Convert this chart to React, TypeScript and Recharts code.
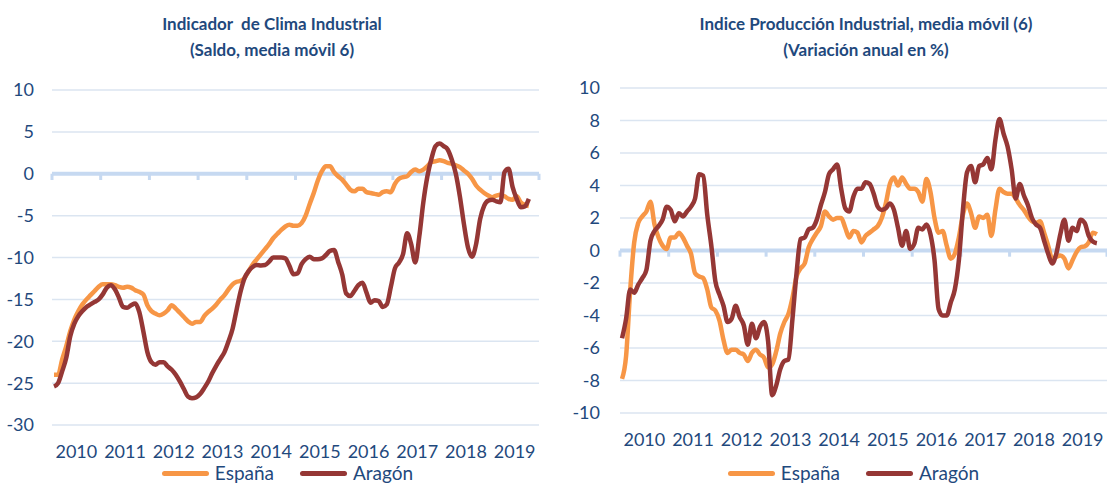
import React from 'react'
import { LineChart, Line, XAxis, YAxis, CartesianGrid, ReferenceLine, Legend } from 'recharts'

// Jan 2010 .. Oct 2019, monthly
const anios = [2010, 2011, 2012, 2013, 2014, 2015, 2016, 2017, 2018, 2019]
const limites = [2010, 2011, 2012, 2013, 2014, 2015, 2016, 2017, 2018, 2019, 2020]

const climaEspana = [
  -24.0, -24.0, -22.2, -20.6, -18.8, -17.4, -16.4, -15.6, -15.0, -14.5, -14.0, -13.5,
  -13.2, -13.2, -13.2, -13.3, -13.5, -13.6, -13.5, -13.6, -13.9, -14.1, -14.4, -15.7,
  -16.4, -16.7, -16.9, -16.7, -16.3, -15.7, -16.1, -16.6, -17.1, -17.6, -17.9, -17.7,
  -17.7, -17.0, -16.5, -16.1, -15.6, -15.0, -14.5, -13.8, -13.2, -12.9, -12.8, -12.4,
  -11.6, -10.8, -10.2, -9.6, -9.0, -8.4, -7.7, -7.2, -6.7, -6.3, -6.1, -6.2,
  -6.2, -5.9, -5.0, -3.6, -2.3, -0.8, 0.3, 0.9, 0.9, 0.2, -0.3, -0.7,
  -1.3, -1.9, -2.1, -1.8, -1.8, -2.2, -2.3, -2.4, -2.5, -2.2, -2.1, -2.2,
  -1.2, -0.6, -0.4, -0.3, 0.2, 0.5, 0.3, 0.5, 0.9, 1.4, 1.5, 1.6,
  1.5, 1.3, 1.2, 1.0, 0.8, 0.4, 0.0, -0.6, -1.4, -1.9, -2.3, -2.6,
  -2.8, -2.6, -2.5, -2.7, -3.0, -3.1, -2.7, -3.4, -3.7, -3.85,
]

const climaAragon = [
  -25.4, -25.0, -23.6, -22.0, -19.4, -17.9, -17.0, -16.4, -15.9, -15.6, -15.3, -15.0,
  -14.4, -13.6, -13.3, -13.8, -14.8, -15.9, -16.0, -15.7, -15.5, -16.5, -18.8, -21.3,
  -22.5, -22.8, -22.5, -22.5, -23.0, -23.4, -24.0, -24.8, -25.7, -26.6, -26.8, -26.7,
  -26.3, -25.6, -24.8, -23.8, -22.9, -22.1, -21.3, -20.0, -18.5, -16.2, -14.0, -12.4,
  -11.6, -11.1, -10.9, -10.95, -10.9, -10.5, -10.0, -10.0, -10.0, -10.1, -11.0, -12.0,
  -11.9, -10.8, -10.2, -9.9, -10.2, -10.2, -10.1, -9.7, -9.2, -9.1, -10.5, -12.0,
  -14.3, -14.6, -14.0, -13.3, -13.0, -14.2, -15.4, -15.1, -15.2, -15.9, -15.6, -13.5,
  -11.3, -10.6, -9.6, -7.1, -8.4, -10.6, -7.5, -3.4, -0.3, 1.8, 3.3, 3.6,
  3.3, 2.9, 1.7, 0.0, -2.7, -6.0, -8.8, -9.9, -8.4, -5.4, -3.8, -3.2,
  -3.1, -3.3, -3.4, 0.2, 0.6, -1.6, -3.0, -4.0, -3.9, -3.0,
]

const ipiEspana = [
  -7.9, -6.5, -2.5, 0.5, 1.7, 2.1, 2.4, 3.0, 1.6, 0.8, 0.3, 0.1,
  0.8, 0.8, 1.1, 0.8, 0.3, -0.2, -1.4, -1.6, -1.7, -2.4, -3.5, -3.7,
  -4.3, -5.5, -6.3, -6.1, -6.1, -6.3, -6.4, -6.8, -6.3, -6.1, -6.4, -6.6,
  -7.2, -7.0, -6.2, -5.1, -4.4, -3.9, -2.9, -1.6, -1.1, -0.8, 0.2, 0.7,
  1.1, 1.5, 2.4, 2.1, 1.9, 2.0, 2.0, 1.4, 0.8, 1.2, 1.1, 0.5,
  0.9, 1.1, 1.3, 1.5, 2.0, 2.9, 4.1, 4.5, 4.0, 4.5, 4.1, 3.8,
  3.8, 3.6, 3.0, 4.4, 3.6, 2.0, 1.1, 1.2, 0.3, -0.5, -0.2, 0.8,
  2.2, 2.9, 2.3, 1.4, 2.1, 2.0, 2.2, 0.9, 2.5, 3.8, 3.6, 3.5,
  3.5, 3.2, 2.8, 2.5, 2.1, 1.8, 1.7, 1.8, 1.1, 0.3, -0.5, -0.4,
  -0.3, -0.5, -1.1, -0.6, -0.1, 0.2, 0.25, 0.5, 1.1, 1.0,
]

const ipiAragon = [
  -5.4, -4.2, -2.4, -2.6, -2.1, -1.7, -1.2, 0.6, 1.2, 1.5, 1.9, 2.7,
  2.5, 1.8, 2.3, 2.1, 2.4, 2.7, 3.2, 4.7, 4.6, 2.2, 0.3, -1.9,
  -2.7, -3.4, -4.4, -4.2, -3.4, -4.1, -4.6, -5.8, -4.5, -5.4, -4.7, -4.4,
  -5.6, -8.9, -8.3, -7.3, -6.8, -6.7, -4.2, -1.4, 0.7, 0.8, 1.3, 1.4,
  1.9, 2.8, 3.6, 4.7, 5.0, 5.3, 3.8, 2.6, 2.4, 3.3, 3.8, 3.8,
  4.2, 4.1, 3.5, 2.7, 2.5, 2.6, 2.9, 2.5, 1.4, 0.3, 1.2, 0.1,
  0.4, 1.4, 1.3, 1.6, 1.0, -0.6, -3.6, -4.0, -4.0, -3.2, -2.4, -0.6,
  2.5, 4.8, 5.2, 4.2, 5.2, 5.3, 5.7, 5.0, 6.8, 8.1, 7.2, 6.4,
  5.0, 3.2, 4.1, 3.4, 2.8, 2.0, 1.6, 1.4, 0.6, -0.2, -0.8, -0.2,
  1.0, 1.9, 0.6, 1.4, 1.2, 1.9, 1.7, 0.9, 0.55, 0.45,
]

const ticksClima = [-30, -25, -20, -15, -10, -5, 0, 5, 10]
const ticksIpi = [-10, -8, -6, -4, -2, 0, 2, 4, 6, 8, 10]

const NARANJA = '#f79646'
const GRANATE = '#953735'
const AZUL = '#1f497d'
const REJILLA = '#dbe5f1'
const EJE = '#c6d9f1'
const FUENTE = 'Lato, "Open Sans", sans-serif'

const datosClima = climaEspana.map((v, i) => ({ t: 2010 + (i + 0.5) / 12, espana: v, aragon: climaAragon[i] }))
const datosIpi = ipiEspana.map((v, i) => ({ t: 2010 + (i + 0.5) / 12, espana: v, aragon: ipiAragon[i] }))

function Leyenda({ shift }: { shift: number }) {
  const item = (color: string, name: string) => (
    <div style={{ display: 'flex', alignItems: 'center', marginRight: 26 }}>
      <div style={{ width: 47, height: 5, borderRadius: 3, background: color, marginRight: 6 }} />
      <span style={{ fontSize: 19, lineHeight: '22px', color: AZUL, fontFamily: FUENTE }}>{name}</span>
    </div>
  )
  return (
    <div style={{ display: 'flex', justifyContent: 'center', paddingLeft: shift, marginTop: 1, height: 22 }}>
      {item(NARANJA, 'España')}
      {item(GRANATE, 'Aragón')}
    </div>
  )
}

function Titulo({ lines, center }: { lines: string[]; center: number }) {
  return (
    <div
      style={{
        position: 'absolute',
        left: center - 300,
        width: 600,
        top: 11,
        textAlign: 'center',
        color: AZUL,
        fontFamily: FUENTE,
        fontWeight: 700,
        fontSize: 17,
        lineHeight: '26px',
      }}
    >
      {lines.map((l) => (
        <div key={l} style={{ whiteSpace: 'pre' }}>{l}</div>
      ))}
    </div>
  )
}

const tickStyle = { fontSize: 18, fill: AZUL, fontFamily: FUENTE }

export default function App() {
  return (
    <div style={{ position: 'absolute', left: 0, top: 0, width: 1107, height: 486, background: '#fff', overflow: 'hidden' }}>
      <Titulo lines={['Indicador  de Clima Industrial', '(Saldo, media móvil 6)']} center={272} />
      <Titulo lines={['Indice Producción Industrial, media móvil (6)', '(Variación anual en %)']} center={866} />

      <div style={{ position: 'absolute', left: 0, top: 0 }}>
        <LineChart width={560} height={486} data={datosClima} margin={{ top: 90, right: 21, bottom: 0, left: 0 }}>
          <CartesianGrid vertical={false} stroke={REJILLA} strokeWidth={1.5} />
          <XAxis
            dataKey="t"
            type="number"
            domain={[2010, 2020]}
            ticks={anios.map((a) => a + 0.5)}
            tickFormatter={(v) => String(Math.floor(v))}
            axisLine={false}
            tickLine={false}
            tickSize={0}
            tickMargin={20}
            height={36}
            tick={tickStyle}
            interval={0}
          />
          <YAxis
            domain={[-30, 10]}
            ticks={ticksClima}
            axisLine={false}
            tickLine={false}
            tickSize={0}
            tickMargin={18}
            width={52}
            tick={tickStyle}
            interval={0}
          />
          <ReferenceLine y={0} stroke={EJE} strokeWidth={4} />
          {limites.map((a) => (
            <ReferenceLine key={a} segment={[{ x: a, y: 0 }, { x: a, y: -0.75 }]} stroke={EJE} strokeWidth={3} />
          ))}
          <Legend verticalAlign="bottom" height={25} content={() => <Leyenda shift={62} />} />
          <Line dataKey="espana" name="España" type="monotone" stroke={NARANJA} strokeWidth={4.5} dot={false} isAnimationActive={false} />
          <Line dataKey="aragon" name="Aragón" type="monotone" stroke={GRANATE} strokeWidth={4.5} dot={false} isAnimationActive={false} />
        </LineChart>
      </div>

      <div style={{ position: 'absolute', left: 560, top: 0 }}>
        <LineChart width={547} height={486} data={datosIpi} margin={{ top: 88, right: 0, bottom: 0, left: 0 }}>
          <CartesianGrid vertical={false} stroke={REJILLA} strokeWidth={1.5} />
          <XAxis
            dataKey="t"
            type="number"
            domain={[2010, 2020]}
            ticks={anios.map((a) => a + 0.5)}
            tickFormatter={(v) => String(Math.floor(v))}
            axisLine={false}
            tickLine={false}
            tickSize={0}
            tickMargin={20}
            height={48}
            tick={tickStyle}
            interval={0}
          />
          <YAxis
            domain={[-10, 10]}
            ticks={ticksIpi}
            axisLine={false}
            tickLine={false}
            tickSize={0}
            tickMargin={20}
            width={60}
            tick={tickStyle}
            interval={0}
          />
          <ReferenceLine y={0} stroke={EJE} strokeWidth={4} />
          {limites.map((a) => (
            <ReferenceLine key={a} segment={[{ x: a, y: 0 }, { x: a, y: -0.38 }]} stroke={EJE} strokeWidth={3} />
          ))}
          <Legend verticalAlign="bottom" height={25} content={() => <Leyenda shift={66} />} />
          <Line dataKey="espana" name="España" type="monotone" stroke={NARANJA} strokeWidth={4.5} dot={false} isAnimationActive={false} />
          <Line dataKey="aragon" name="Aragón" type="monotone" stroke={GRANATE} strokeWidth={4.5} dot={false} isAnimationActive={false} />
        </LineChart>
      </div>
    </div>
  )
}
